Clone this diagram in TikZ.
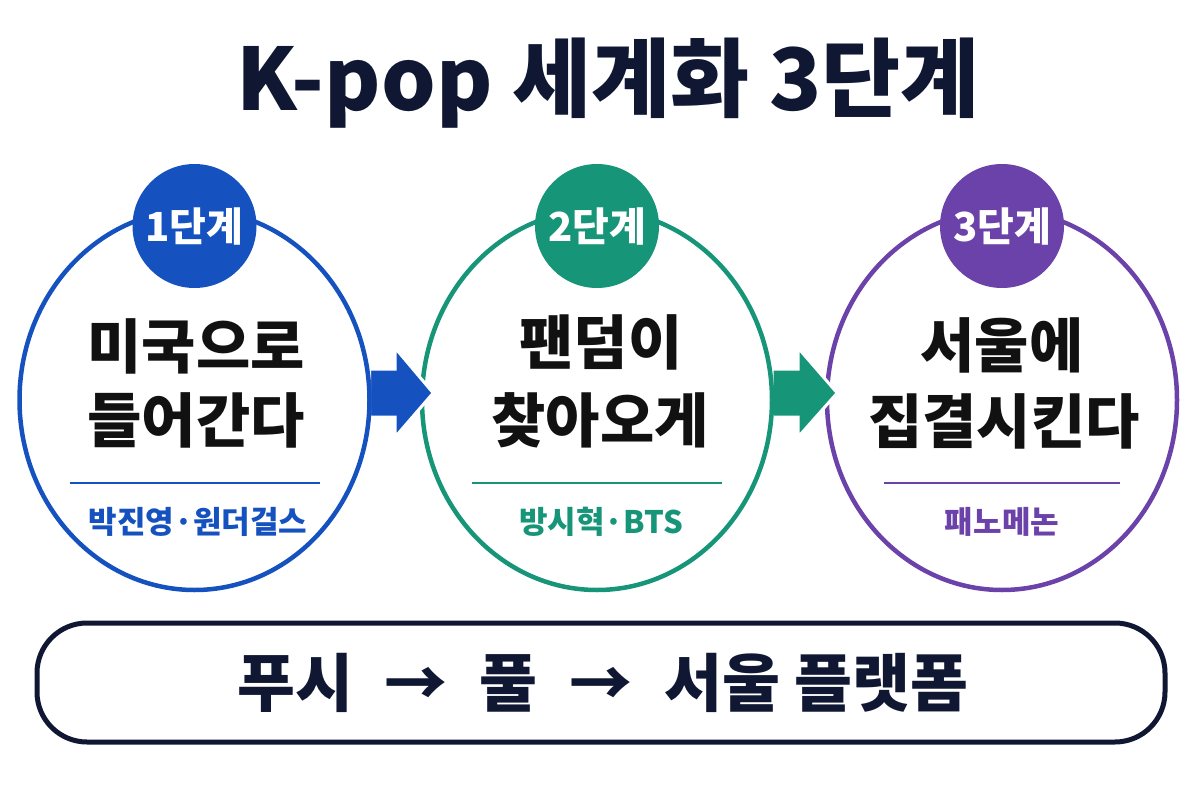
\documentclass[tikz,border=0pt]{standalone}
\usepackage{fontspec}
\setmainfont{Noto Sans CJK KR}
\newfontfamily\heavy{Noto Sans CJK KR Black}
\usetikzlibrary{shapes.geometric,calc}
\definecolor{cblue}{HTML}{1552C0}
\definecolor{cgreen}{HTML}{179579}
\definecolor{cpurple}{HTML}{6B42A9}
\definecolor{navy}{HTML}{0F1733}
\definecolor{ink}{HTML}{111111}
\begin{document}
\begin{tikzpicture}[x=1pt,y=-1pt,
  ring/.style={line width=4.5pt},
  zone/.style={ellipse, minimum width=350pt, minimum height=380pt, inner sep=0pt},
  badge/.style={circle, minimum size=124pt, inner sep=0pt, text=white, font=\heavy\fontsize{40}{40}\selectfont},
  big/.style={font=\heavy\fontsize{59}{59}\selectfont, text=ink, inner sep=0pt},
  sub/.style={font=\bfseries\fontsize{31}{31}\selectfont, inner sep=0pt},
  rule/.style={line width=2pt},
  flow/.style={draw=white, line width=3pt, line join=miter},
]
\useasboundingbox (0,0) rectangle (1200,800);
\fill[white] (0,0) rectangle (1200,800);

% title
\node[font=\heavy\fontsize{86}{86}\selectfont, text=navy, inner sep=0pt] (title) at (608,83) {K-pop 세계화 3단계};

% zones
\node[zone] (c1) at (194.5,400) {};
\node[zone] (c2) at (597,400) {};
\node[zone] (c3) at (1002,400) {};

\draw[ring, cpurple] (c3.center) ellipse [x radius=175, y radius=190];
\fill[flow, fill=cgreen] ($(c2.east)+(0,-31)$) -- ++(26,0) -- ++(0,-21) -- ++(39,45) -- ++(-39,44) -- ++(0,-20) -- ($(c2.east)+(0,17)$) -- cycle;
\draw[ring, cgreen] (c2.center) ellipse [x radius=175, y radius=190];
\filldraw[flow, fill=cblue] ($(c1.east)+(0,-31)$) -- ++(25.5,0) -- ++(0,-21) -- ++(38,45) -- ++(-38,44) -- ++(0,-20) -- ($(c1.east)+(0,17)$) -- cycle;
\draw[ring, cblue] (c1.center) ellipse [x radius=175, y radius=190];

% badges
\node[badge, fill=cblue] (b1) at (194.5,226) {1단계};
\node[badge, fill=cgreen] (b2) at (597,226) {2단계};
\node[badge, fill=cpurple] (b3) at (1002,226) {3단계};

% main texts
\node[big] (t1a) at (196,346) {미국으로};
\node[big] (t1b) at (196,420) {들어간다};
\node[big] (t2a) at (601,342) {팬덤이};
\node[big] (t2b) at (600,420) {찾아오게};
\node[big] (t3a) at (1002,345) {서울에};
\node[big] (t3b) at (1004,421) {집결시킨다};

% dividers
\draw[rule, cblue] ($(c1.center)+(-125,83)$) -- ++(250,0);
\draw[rule, cgreen] ($(c2.center)+(-125,83)$) -- ++(250,0);
\draw[rule, cpurple] ($(c3.center)+(-118,83)$) -- ++(236,0);

% subtitles
\node[sub, text=cblue] (s1) at (198,522) {박진영·원더걸스};
\node[sub, text=cgreen] (s2) at (601,522) {방시혁·BTS};
\node[sub, text=cpurple] (s3) at (1002,522) {패노메논};

% bottom bar
\node[draw=navy, line width=5pt, rounded corners=50pt, minimum width=1128pt, minimum height=119pt, inner sep=0pt] (bar) at (601,682.5) {};
\node[font=\heavy\fontsize{63}{63}\selectfont, text=navy, inner sep=0pt] (bartext) at (603,683) {푸시 \;→\; 풀 \;→\; 서울 플랫폼};
\end{tikzpicture}
\end{document}
